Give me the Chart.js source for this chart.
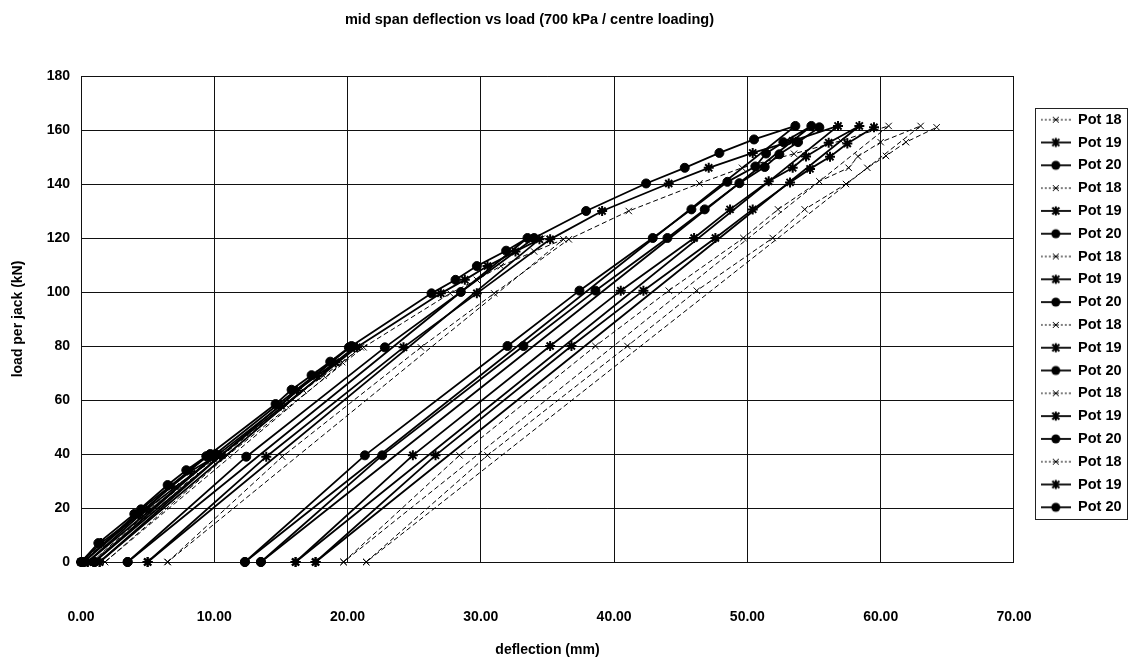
<!DOCTYPE html>
<html>
<head>
<meta charset="utf-8">
<script src="https://cdn.jsdelivr.net/npm/chart.js@4.4.1/dist/chart.umd.min.js"></script>
<style>
  html, body { margin: 0; padding: 0; background: #fff; }
  #wrap { width: 1131px; height: 663px; }
</style>
</head>
<body>
<div id="wrap"><canvas id="loadChart"></canvas></div>
<script>
// deflection (mm), load per jack (kN) pairs, one array per load cycle and pot
const pot18Cycle1 = [[0,0],[1.7,7],[4.6,17.5],[7.1,28],[8.6,33.5],[10.3,38.5],[0.8,0]];
const pot19Cycle1 = [[0,0],[1.5,7],[4.3,17.5],[6.8,28],[8.2,33.5],[9.9,38.5],[0.5,0]];
const pot20Cycle1 = [[0,0],[1.3,7],[4.0,17.8],[6.5,28.5],[7.9,34],[9.4,39.2],[0.2,0]];

const pot18Cycle2 = [[0.8,0],[5.3,19.5],[10.6,39.5],[15.4,58],[16.7,63.5],[18.2,69],[19.6,74],[21.0,79.5],[1.8,0]];
const pot19Cycle2 = [[0.5,0],[4.9,19.5],[10.2,39.5],[15.0,58],[16.2,63.5],[17.7,69],[19.1,74],[20.5,79.5],[1.4,0]];
const pot20Cycle2 = [[0.2,0],[4.5,19.5],[9.7,40],[14.6,58.5],[15.8,63.8],[17.3,69.2],[18.7,74.2],[20.1,79.5],[1.0,0]];

const pot18Cycle3 = [[1.8,0],[11.0,39.5],[21.2,79.5],[27.7,99.5],[29.7,104.5],[31.5,109.6],[34.0,115],[36.2,119.5],[6.5,0]];
const pot19Cycle3 = [[1.4,0],[10.5,39.5],[20.7,79.5],[27.0,99.5],[28.8,104.5],[30.5,109.6],[32.6,115],[34.4,119.5],[5.0,0]];
const pot20Cycle3 = [[1.0,0],[10.1,40],[20.3,80],[26.3,99.5],[28.1,104.5],[29.7,109.6],[31.9,115.3],[33.5,120],[3.5,0]];

const pot18Cycle4 = [[6.5,0],[15.1,39],[25.5,79.5],[31.0,99.5],[36.6,119.5],[41.1,130],[46.4,140.2],[49.6,146],[53.5,151.2],[57.0,156],[60.6,161.5],[19.7,0]];
const pot19Cycle4 = [[5.0,0],[13.9,39],[24.2,79.5],[29.7,99.5],[35.2,119.5],[39.1,130],[44.1,140.2],[47.1,146],[50.4,151.5],[53.4,156],[56.8,161.5],[16.1,0]];
const pot20Cycle4 = [[3.5,0],[12.4,39],[22.8,79.5],[28.5,100],[34.0,120],[37.9,130],[42.4,140.2],[45.3,146],[47.9,151.5],[50.5,156.5],[53.6,161.5],[12.3,0]];

const pot18Cycle5 = [[19.7,0],[28.4,39.5],[38.6,80],[44.1,100.5],[49.7,120],[52.3,130.6],[55.4,141],[57.6,146],[58.3,150.2],[60.0,155.5],[63.0,161.5],[21.4,0]];
const pot19Cycle5 = [[16.1,0],[24.9,39.5],[35.2,80],[40.5,100.5],[46.0,120],[48.7,130.6],[51.6,141],[53.4,146],[54.4,150.2],[56.1,155.3],[58.4,161.5],[17.6,0]];
const pot20Cycle5 = [[12.3,0],[21.3,39.5],[32.0,80],[37.4,100.5],[42.9,120],[45.8,130.6],[48.5,140.8],[50.6,146.5],[51.4,151.3],[52.7,155.5],[54.8,161.5],[13.5,0]];

const pot18Cycle6 = [[21.4,0],[30.5,39.5],[41.0,80],[46.2,100.5],[51.9,120],[54.3,130.6],[57.4,140],[59.0,146],[60.4,150.4],[61.9,155.5],[64.2,161]];
const pot19Cycle6 = [[17.6,0],[26.6,39.5],[36.8,80],[42.2,100.5],[47.6,120],[50.4,130.6],[53.2,140.6],[54.7,145.6],[56.2,150.1],[57.5,155],[59.5,161]];
const pot20Cycle6 = [[13.5,0],[22.6,39.5],[33.2,80],[38.6,100.5],[44.0,120],[46.8,130.6],[49.4,140.3],[51.3,146.3],[52.4,151],[53.8,155.5],[55.4,161]];

const potNames = ['Pot 18', 'Pot 19', 'Pot 20'];
const cycles = [
  [pot18Cycle1, pot19Cycle1, pot20Cycle1],
  [pot18Cycle2, pot19Cycle2, pot20Cycle2],
  [pot18Cycle3, pot19Cycle3, pot20Cycle3],
  [pot18Cycle4, pot19Cycle4, pot20Cycle4],
  [pot18Cycle5, pot19Cycle5, pot20Cycle5],
  [pot18Cycle6, pot19Cycle6, pot20Cycle6]
];
const xTicks = [0, 10, 20, 30, 40, 50, 60, 70];
const yTicks = [0, 20, 40, 60, 80, 100, 120, 140, 160, 180];

const FONT = "'Liberation Sans', Arial, sans-serif";

const potStyles = [
  { borderWidth: 1, borderDash: [5, 3], pointStyle: 'crossRot', pointRadius: 4.5, pointBorderWidth: 1 },
  { borderWidth: 1.8, borderDash: [], pointStyle: 'star', pointRadius: 5, pointBorderWidth: 2 },
  { borderWidth: 1.8, borderDash: [], pointStyle: 'circle', pointRadius: 4.5, pointBorderWidth: 1 }
];

// small line + marker pictures for the legend
function makeIcon(pot) {
  const c = document.createElement('canvas');
  c.width = 30; c.height = 14;
  const g = c.getContext('2d');
  g.strokeStyle = '#000';
  g.fillStyle = '#000';
  g.lineWidth = pot === 0 ? 1 : 1.8;
  g.setLineDash(pot === 0 ? [2, 2] : []);
  g.beginPath(); g.moveTo(0, 7); g.lineTo(30, 7); g.stroke();
  g.setLineDash([]);
  if (pot === 0) {
    g.lineWidth = 1;
    g.beginPath();
    g.moveTo(12, 4); g.lineTo(18, 10); g.moveTo(18, 4); g.lineTo(12, 10);
    g.stroke();
  } else if (pot === 1) {
    g.lineWidth = 2;
    g.beginPath();
    g.moveTo(11.5, 3.5); g.lineTo(18.5, 10.5); g.moveTo(18.5, 3.5); g.lineTo(11.5, 10.5);
    g.moveTo(15, 2.5); g.lineTo(15, 11.5);
    g.stroke();
  } else {
    g.beginPath(); g.arc(15, 7, 4.5, 0, Math.PI * 2); g.fill();
  }
  return c;
}
const legendIcons = [makeIcon(0), makeIcon(1), makeIcon(2)];

const datasets = [];
cycles.forEach(cycle => {
  cycle.forEach((pts, p) => {
    const s = potStyles[p];
    datasets.push({
      label: potNames[p],
      data: pts.map(([x, y]) => ({ x, y })),
      showLine: true,
      tension: 0,
      borderColor: '#000',
      backgroundColor: '#000',
      pointBackgroundColor: '#000',
      pointBorderColor: '#000',
      borderWidth: s.borderWidth,
      borderDash: s.borderDash,
      pointStyle: s.pointStyle,
      pointRadius: s.pointRadius,
      pointBorderWidth: s.pointBorderWidth,
      clip: 10
    });
  });
});

const layoutTweaks = {
  id: 'layoutTweaks',
  afterLayout(chart) {
    const t = chart.titleBlock;
    if (t) { t.left -= 27; t.right -= 27; }
    const lg = chart.legend;
    if (lg) {
      const dx = 1032.5 - lg.left;
      lg.left += dx; lg.right += dx;
      lg.top -= 20; lg.bottom -= 20;
    }
  },
  afterDraw(chart) {
    const lg = chart.legend;
    if (!lg || !lg.legendHitBoxes || !lg.legendHitBoxes.length) return;
    const hb = lg.legendHitBoxes;
    const left = Math.min(...hb.map(h => h.left)) - 5.5;
    const right = Math.max(...hb.map(h => h.left + h.width)) + 5.5;
    const top = Math.min(...hb.map(h => h.top)) - 4.5;
    const bottom = Math.max(...hb.map(h => h.top + h.height)) + 4.5;
    const ctx = chart.ctx;
    ctx.save();
    ctx.strokeStyle = '#222';
    ctx.lineWidth = 1;
    ctx.setLineDash([]);
    ctx.strokeRect(Math.round(left) + 0.5, Math.round(top) + 0.5, Math.round(right - left), Math.round(bottom - top));
    ctx.restore();
  }
};

new Chart(document.getElementById('loadChart'), {
  type: 'scatter',
  data: { datasets },
  options: {
    responsive: true,
    maintainAspectRatio: false,
    animation: false,
    layout: { padding: { top: 8, left: 0, right: 18, bottom: 4 } },
    plugins: {
      title: {
        display: true,
        text: 'mid span deflection vs load (700 kPa / centre loading)',
        color: '#000',
        font: { family: FONT, size: 14.5, weight: 'bold' },
        padding: { top: 3, bottom: 47.6 }
      },
      legend: {
        position: 'right',
        labels: {
          usePointStyle: true,
          pointStyleWidth: 30,
          color: '#000',
          padding: 8.3,
          font: { family: FONT, size: 14.5, weight: 'bold' },
          generateLabels(chart) {
            const items = Chart.defaults.plugins.legend.labels.generateLabels(chart);
            items.forEach((it, i) => {
              it.pointStyle = legendIcons[i % 3];
              it.rotation = 0;
              it.fontColor = '#000';
            });
            return items;
          }
        }
      },
      tooltip: { enabled: false }
    },
    scales: {
      x: {
        type: 'linear',
        min: xTicks[0],
        max: xTicks[xTicks.length - 1],
        afterBuildTicks(scale) { scale.ticks = xTicks.map(v => ({ value: v })); },
        afterFit(scale) { scale.height = 97; },
        grid: { color: '#111', lineWidth: 1, drawTicks: false },
        border: { color: '#111', width: 1 },
        ticks: {
          color: '#000',
          padding: 46.6,
          font: { family: FONT, size: 14, weight: 'bold' },
          callback: v => Number(v).toFixed(2)
        },
        title: {
          display: true,
          text: 'deflection (mm)',
          color: '#000',
          font: { family: FONT, size: 14, weight: 'bold' },
          padding: { top: 0, bottom: 0 }
        }
      },
      y: {
        type: 'linear',
        min: yTicks[0],
        max: yTicks[yTicks.length - 1],
        afterBuildTicks(scale) { scale.ticks = yTicks.map(v => ({ value: v })); },
        afterFit(scale) { scale.width = 81; },
        grid: { color: '#111', lineWidth: 1, drawTicks: false },
        border: { color: '#111', width: 1 },
        ticks: {
          color: '#000',
          padding: 11,
          font: { family: FONT, size: 14, weight: 'bold' }
        },
        title: {
          display: true,
          text: 'load per jack (kN)',
          color: '#000',
          font: { family: FONT, size: 14, weight: 'bold' },
          padding: { top: 10, bottom: 0 }
        }
      }
    }
  },
  plugins: [layoutTweaks]
});
</script>
</body>
</html>
